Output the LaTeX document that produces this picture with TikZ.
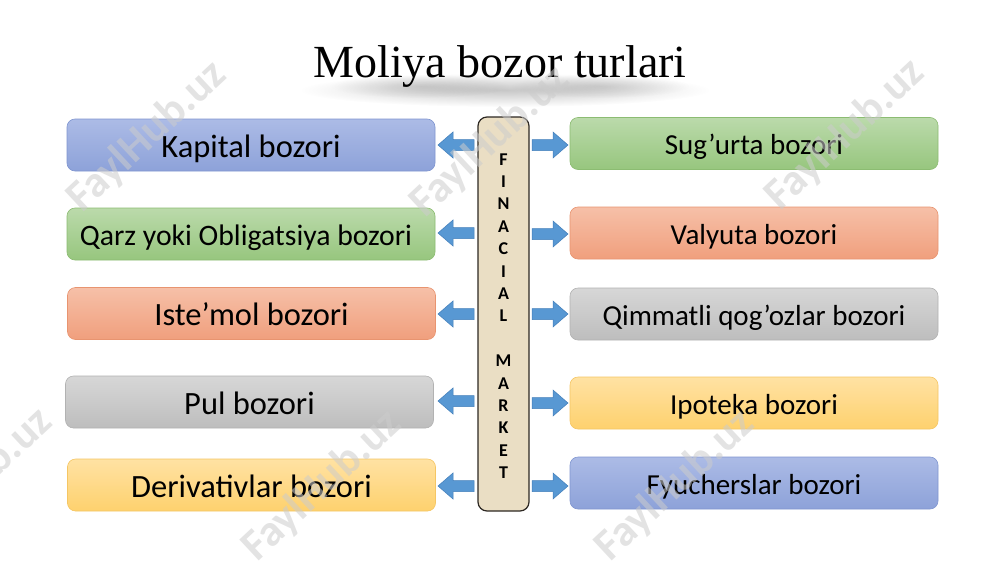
\documentclass[tikz,border=0pt]{standalone}
\usepackage{fontspec}
\setmainfont{Carlito}
\newfontfamily\titlefont{Liberation Serif}
\usetikzlibrary{fadings}
\tikzfading[name=softout, inner color=transparent!0, outer color=transparent!100]
\definecolor{blueT}{RGB}{172,187,230}
\definecolor{blueB}{RGB}{141,162,217}
\definecolor{blueD}{RGB}{128,150,208}
\definecolor{greenT}{RGB}{187,218,171}
\definecolor{greenB}{RGB}{151,198,126}
\definecolor{greenD}{RGB}{140,188,114}
\definecolor{orangeT}{RGB}{246,192,168}
\definecolor{orangeB}{RGB}{240,159,125}
\definecolor{orangeD}{RGB}{232,148,112}
\definecolor{grayT}{RGB}{215,215,215}
\definecolor{grayB}{RGB}{189,189,189}
\definecolor{grayD}{RGB}{178,178,178}
\definecolor{yellowT}{RGB}{255,226,163}
\definecolor{yellowB}{RGB}{254,209,110}
\definecolor{yellowD}{RGB}{245,198,100}
\definecolor{arrowC}{RGB}{88,152,211}
\definecolor{arrowD}{RGB}{66,126,186}
\definecolor{parch}{RGB}{234,222,196}
\definecolor{parchD}{RGB}{45,40,35}
\tikzset{
  mbox/.style={rounded corners=8pt, minimum width=368pt, minimum height=52pt,
    inner sep=0pt, line width=0.6pt, text=black},
  big/.style={font=\fontsize{32.5}{36}\selectfont, text height=24.5pt, text depth=0pt},
  small/.style={font=\fontsize{29}{32}\selectfont, text height=22.3pt, text depth=0pt},
  bluebox/.style={mbox, top color=blueT, bottom color=blueB, draw=blueD},
  greenbox/.style={mbox, top color=greenT, bottom color=greenB, draw=greenD},
  orangebox/.style={mbox, top color=orangeT, bottom color=orangeB, draw=orangeD},
  graybox/.style={mbox, top color=grayT, bottom color=grayB, draw=grayD},
  yellowbox/.style={mbox, top color=yellowT, bottom color=yellowB, draw=yellowD},
  barrow/.style={fill=arrowC, draw=arrowD, line width=0.5pt, line join=miter},
  wm/.style={font=\bfseries\fontsize{44}{48}\selectfont, text=gray!40, opacity=0.55, rotate=43},
}
\newcommand\leftarr[1]{\filldraw[barrow] (474,{#1-5.5}) -- (453,{#1-5.5}) -- (453,{#1-13}) -- (438,#1) -- (453,{#1+13}) -- (453,{#1+5.5}) -- (474,{#1+5.5}) -- cycle;}
\newcommand\rightarr[1]{\filldraw[barrow] (532,{#1-5.5}) -- (553,{#1-5.5}) -- (553,{#1-13}) -- (568,#1) -- (553,{#1+13}) -- (553,{#1+5.5}) -- (532,{#1+5.5}) -- cycle;}
\begin{document}
\begin{tikzpicture}[x=1pt,y=-1pt]
\useasboundingbox (0,0) rectangle (1000,562);
\fill[white] (0,0) rectangle (1000,562);
% title with soft shadow
\fill[black, opacity=0.22, path fading=softout] (505,90) ellipse (205 and 17);
\fill[black, opacity=0.12, path fading=softout] (420,86) ellipse (90 and 12);
\fill[black, opacity=0.12, path fading=softout] (600,86) ellipse (90 and 12);
\node[font=\titlefont\fontsize{46}{50}\selectfont, anchor=base, inner sep=0pt] (title) at (500,77) {Moliya bozor turlari};
% left boxes
\node[bluebox, big]   (L1) at (251,145)   {Kapital bozori};
\node[greenbox, small, font=\fontsize{29.7}{33}\selectfont, text height=22.8pt]
                      (L2) at (251,234)   {\hspace*{-10pt}Qarz yoki Obligatsiya bozori};
\node[orangebox, big] (L3) at (251.5,313.5) {Iste’mol bozori};
\node[graybox, big]   (L4) at (249.5,402) {Pul bozori};
\node[yellowbox, big] (L5) at (251.5,485) {Derivativlar bozori};
% right boxes
\node[greenbox, small] (R1) at (754,143.5) {Sug’urta bozori};
\node[orangebox, small](R2) at (754,233)   {Valyuta bozori};
\node[graybox, small]  (R3) at (754,314)   {Qimmatli qog’ozlar bozori};
\node[yellowbox, small](R4) at (754,403)   {Ipoteka bozori};
\node[bluebox, small]  (R5) at (754,483)   {Fyucherslar bozori};
% central column
\node[draw=parchD, fill=parch, rounded corners=9pt, minimum width=51pt, minimum height=394pt,
      line width=1.2pt, inner sep=0pt] (col) at (503.5,314) {};
\node[font=\bfseries\fontsize{18}{22.4}\selectfont, align=center, inner sep=0pt] (fm) at (503.5,316)
  {F\\I\\N\\A\\C\\I\\A\\L\\[22.4pt]M\\A\\R\\K\\E\\T};
% arrows
\leftarr{145}\leftarr{233}\leftarr{314}\leftarr{401}\leftarr{486}
\rightarr{145}\rightarr{234}\rightarr{314}\rightarr{403}\rightarr{486}
% watermarks
\node[wm] (w1) at (147,137) {FaylHub.uz};
\node[wm] (w2) at (490,142) {FaylHub.uz};
\node[wm] (w3) at (845,135) {FaylHub.uz};
\node[wm] (w4) at (-27,484) {FaylHub.uz};
\node[wm] (w5) at (322,486) {FaylHub.uz};
\node[wm] (w6) at (675,486) {FaylHub.uz};
\end{tikzpicture}
\end{document}
